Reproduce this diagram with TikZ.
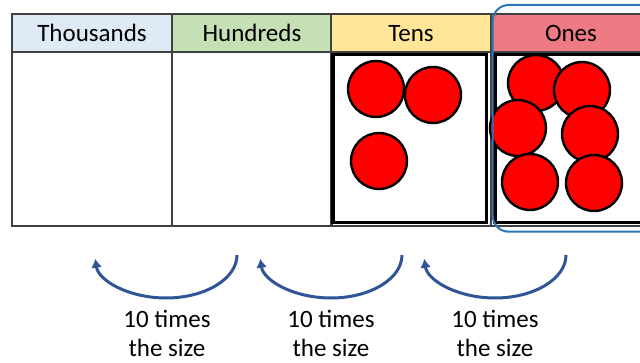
\documentclass[tikz,border=0pt]{standalone}
\usepackage{fontspec}
\setmainfont{Carlito}
\usetikzlibrary{arrows.meta}

\definecolor{thouBlue}{HTML}{DEEBF7}
\definecolor{hundGreen}{HTML}{C5E0B4}
\definecolor{tensYellow}{HTML}{FFE699}
\definecolor{onesPink}{HTML}{EE7B84}
\definecolor{gridGray}{HTML}{404040}
\definecolor{ringBlue}{HTML}{2E75B6}
\definecolor{arrowBlue}{HTML}{2F5597}

\tikzset{
  headcell/.style={draw=gridGray, line width=1.2pt, minimum width=160pt, minimum height=38pt,
    inner sep=0pt, text height=17.4pt, text depth=0pt, font=\fontsize{25}{30}\selectfont},
  bodycell/.style={draw=gridGray, line width=1.2pt, minimum width=160pt, minimum height=174pt, inner sep=0pt},
  counter/.style={fill=red, draw=black, line width=2.4pt},
  sizearrow/.style={draw=arrowBlue, line width=3pt, -{Latex[length=9pt,width=11pt]}},
  sizelabel/.style={align=center, anchor=base, font=\fontsize{25}{29.5}\selectfont}
}

\begin{document}
\begin{tikzpicture}[x=1pt,y=-1pt]
  \useasboundingbox (0,0) rectangle (640,363);
  \clip (0,0) rectangle (640,363);

  % Header row
  \node[headcell, fill=thouBlue]   (thou) at (92,33)  {Thousands};
  \node[headcell, fill=hundGreen]  (hund) at (252,33) {Hundreds};
  \node[headcell, fill=tensYellow] (tens) at (411,33) {Tens};
  \node[headcell, fill=onesPink]   (ones) at (571,33) {Ones};

  % Body row
  \node[bodycell] (thouBody) at (92,139)  {};
  \node[bodycell] (hundBody) at (252,139) {};
  \node[bodycell] (tensBody) at (411,139) {};
  \node[bodycell] (onesBody) at (571,139) {};

  % Thick boxes round the counters
  \draw[line width=3.5pt] (333,54.5) rectangle (486.5,222.5);
  \draw[line width=3.5pt] (495,54.5) rectangle (660,222.5);

  % Tens counters
  \filldraw[counter] (376,89)  circle (28);
  \filldraw[counter] (433,95)  circle (28);
  \filldraw[counter] (379,161) circle (28);

  % Ones counters
  \filldraw[counter] (536,83)  circle (28);
  \filldraw[counter] (582,90)  circle (28);
  \filldraw[counter] (518,128) circle (28);
  \filldraw[counter] (590,134) circle (28);
  \filldraw[counter] (530,182) circle (28);
  \filldraw[counter] (594,183) circle (28);

  % Ring round the ones column
  \draw[ringBlue, line width=2pt, rounded corners=16pt] (492.7,5) rectangle (660,231.7);

  % Arrows "10 times the size"
  \coordinate (hundTail) at (237,255);
  \coordinate (tensTail) at (402,255);
  \coordinate (onesTail) at (566,255);
  \draw[sizearrow] (hundTail) arc[start angle=0, end angle=175, x radius=71, y radius=43];
  \draw[sizearrow] (tensTail) arc[start angle=0, end angle=175, x radius=71, y radius=43];
  \draw[sizearrow] (onesTail) arc[start angle=0, end angle=175, x radius=71, y radius=43];

  % Labels (base is the last line's baseline)
  \node[sizelabel] (hundLabel) at (167,356.7) {10 times\\the size};
  \node[sizelabel] (tensLabel) at (331,356.7) {10 times\\the size};
  \node[sizelabel] (onesLabel) at (495,356.7) {10 times\\the size};
\end{tikzpicture}
\end{document}
